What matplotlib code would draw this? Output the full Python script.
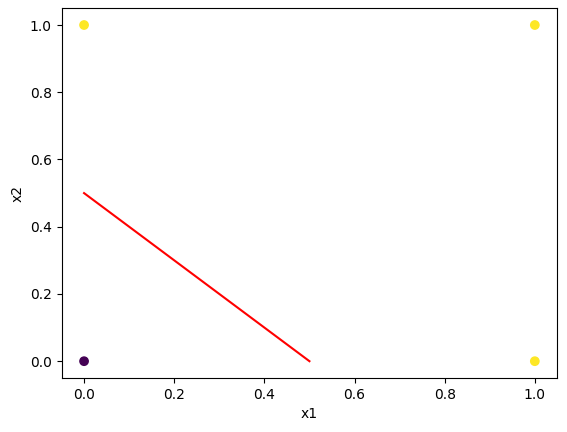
import numpy as np
import matplotlib
matplotlib.use("Agg")
import matplotlib.pyplot as plt

# OR gate inputs and labels
x1 = np.array([0, 0, 1, 1])
x2 = np.array([0, 1, 0, 1])
y = np.array([0, 1, 1, 1])

# decision boundary
line_x = np.array([0.0, 0.5])
line_y = np.array([0.5, 0.0])

fig = plt.figure(figsize=(5.67, 4.32), dpi=100)
ax = fig.add_subplot(111)
fig.subplots_adjust(left=0.1085, right=0.983, top=0.981, bottom=0.125)

ax.scatter(x1, x2, c=y)
ax.plot(line_x, line_y, color="red")
ax.set_xlabel("x1")
ax.set_ylabel("x2")

fig.savefig("out.png", dpi=100)
